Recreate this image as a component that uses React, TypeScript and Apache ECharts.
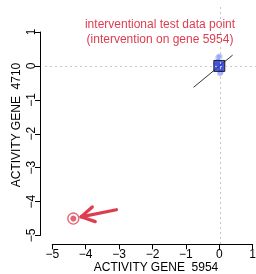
import React, { useEffect, useRef } from "react";
import * as echarts from "echarts";

const xTicks = [-5, -4, -3, -2, -1, 0, 1];
const yTicks = [-5, -4, -3, -2, -1, 0, 1];
const xTitle = "ACTIVITY GENE  5954";
const yTitle = "ACTIVITY GENE  4710";
const noteLines = ["interventional test data point", "(intervention on gene 5954)"];

// observational cluster around the origin
const clusterX = [0.0, 0.06, -0.07, 0.04, -0.03, 0.09, -0.05, 0.02, 0.07, -0.08, 0.01];
const clusterY = [0.0, 0.08, -0.06, -0.18, 0.25, 0.02, 0.12, -0.22, -0.1, 0.05, 0.28];
const mainPoint = [0.0, 0.0];
// fitted line segment
const fitX = [-0.77, 0.4];
const fitY = [-0.63, 0.32];
// interventional point
const interX = -4.37;
const interY = -4.5;
// arrow tail -> head
const arrowTail = [-3.08, -4.24];
const arrowHead = [-4.14, -4.45];

const RED = "#de3d50";
const FONT = "Liberation Sans, Arial, Helvetica, sans-serif";

const fmt = (v: number) => (v < 0 ? "\u2212" + Math.abs(v) : String(v));

export default function App() {
  const ref = useRef<HTMLDivElement>(null);
  useEffect(() => {
    if (!ref.current) return;
    const chart = echarts.init(ref.current, null, { renderer: "svg" });
    const option: any = {
      animation: false,
      textStyle: { fontFamily: FONT },
      grid: [
        { left: 52.3, right: 3.3, top: 32, bottom: 38.5, containLabel: false, outerBoundsMode: "none" },
        { left: 45, right: -6, top: 6, bottom: 30, containLabel: false, outerBoundsMode: "none" },
      ],
      xAxis: [
        {
          type: "value",
          gridIndex: 0,
          min: xTicks[0],
          max: xTicks[xTicks.length - 1],
          interval: 1,
          offset: 8.8,
          splitLine: { show: false },
          axisLine: { show: true, onZero: false, lineStyle: { color: "#000", width: 1 } },
          axisTick: { show: true, length: 5, lineStyle: { color: "#000" } },
          axisLabel: { color: "#000", fontSize: 12, margin: 4, formatter: fmt, fontFamily: FONT },
          name: xTitle,
          nameLocation: "middle",
          nameGap: 16,
          nameMoveOverlap: false,
          nameTextStyle: { color: "#000", fontSize: 12, lineHeight: 13, fontFamily: FONT, padding: [0, 0, 0, 7] },
        },
        {
          type: "value",
          gridIndex: 1,
          min: -5.27,
          max: 1.257,
          show: false,
        },
      ],
      yAxis: [
        {
          type: "value",
          gridIndex: 0,
          min: yTicks[0],
          max: yTicks[yTicks.length - 1],
          interval: 1,
          offset: 12.3,
          splitLine: { show: false },
          axisLine: { show: true, onZero: false, lineStyle: { color: "#000", width: 1 } },
          axisTick: { show: true, length: 5, lineStyle: { color: "#000" } },
          axisLabel: { color: "#000", fontSize: 12, margin: 3, rotate: 90, formatter: fmt, fontFamily: FONT },
        },
        {
          type: "value",
          gridIndex: 1,
          min: -5.235,
          max: 1.765,
          show: true,
          axisLine: { show: false, onZero: false },
          axisTick: { show: false },
          axisLabel: { show: false },
          splitLine: { show: false },
          name: yTitle,
          nameLocation: "middle",
          nameRotate: 90,
          nameGap: 23.5,
          nameMoveOverlap: false,
          nameTextStyle: { color: "#000", fontSize: 12, fontFamily: FONT },
        },
      ],
      series: [
        {
          type: "scatter",
          xAxisIndex: 1,
          yAxisIndex: 1,
          data: [],
          silent: true,
          markLine: {
            silent: true,
            symbol: "none",
            label: { show: false },
            lineStyle: { color: "#c8c8c8", width: 1, type: [2, 3] },
            data: [{ xAxis: 0 }, { yAxis: 0 }],
          },
          z: 1,
        },
        {
          type: "scatter",
          xAxisIndex: 0,
          yAxisIndex: 0,
          symbol: "circle",
          symbolSize: 6,
          itemStyle: { color: "rgba(90,110,240,0.45)" },
          data: clusterX.map((x, i) => [x, clusterY[i]]),
          z: 2,
        },
        {
          type: "line",
          xAxisIndex: 0,
          yAxisIndex: 0,
          showSymbol: false,
          symbol: "none",
          lineStyle: { color: "#333", width: 1 },
          data: fitX.map((x, i) => [x, fitY[i]]),
          z: 3,
        },
        {
          type: "scatter",
          xAxisIndex: 0,
          yAxisIndex: 0,
          symbol: "rect",
          symbolSize: 11,
          itemStyle: { color: "#2f3fd6", borderColor: "#000", borderWidth: 1 },
          data: [mainPoint],
          z: 4,
        },
        {
          type: "scatter",
          xAxisIndex: 0,
          yAxisIndex: 0,
          symbol: "circle",
          symbolSize: 11,
          itemStyle: { color: "#fff", borderColor: RED, borderWidth: 1.3 },
          data: [[interX, interY]],
          z: 4,
        },
        {
          type: "scatter",
          xAxisIndex: 0,
          yAxisIndex: 0,
          symbol: "circle",
          symbolSize: 6,
          itemStyle: { color: RED },
          data: [[interX, interY]],
          z: 5,
        },
        {
          type: "custom",
          xAxisIndex: 0,
          yAxisIndex: 0,
          silent: true,
          clip: false,
          encode: { x: [0, 2], y: [1, 3] },
          data: [[arrowTail[0], arrowTail[1], arrowHead[0], arrowHead[1]]],
          renderItem: (params: any, api: any) => {
            const t = api.coord([api.value(0), api.value(1)]);
            const h = api.coord([api.value(2), api.value(3)]);
            const ang = Math.atan2(t[1] - h[1], t[0] - h[0]);
            const L = 15;
            const a1 = ang + Math.PI / 6;
            const a2 = ang - Math.PI / 6;
            const st = { stroke: RED, lineWidth: 3.2, lineCap: "round", lineJoin: "round", fill: "none" };
            return {
              type: "group",
              children: [
                { type: "line", shape: { x1: t[0], y1: t[1], x2: h[0], y2: h[1] }, style: st },
                {
                  type: "polyline",
                  shape: {
                    points: [
                      [h[0] + L * Math.cos(a1), h[1] + L * Math.sin(a1)],
                      [h[0], h[1]],
                      [h[0] + L * Math.cos(a2), h[1] + L * Math.sin(a2)],
                    ],
                  },
                  style: st,
                },
              ],
            };
          },
          z: 6,
        },
      ],
      graphic: [
        {
          type: "text",
          x: 160,
          y: 16,
          style: {
            text: noteLines.join("\n"),
            fill: RED,
            font: "12px " + FONT,
            align: "center",
            verticalAlign: "top",
            lineHeight: 15,
          },
        },
      ],
    };
    chart.setOption(option);
    return () => chart.dispose();
  }, []);
  return (
    <div
      ref={ref}
      style={{ position: "fixed", left: 0, top: 0, width: 256, height: 274 }}
    />
  );
}
